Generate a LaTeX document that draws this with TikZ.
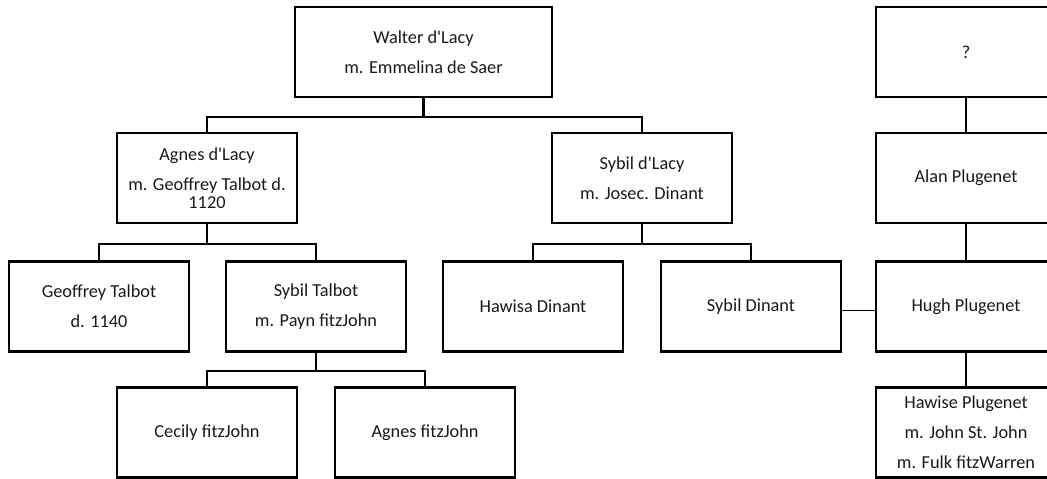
\documentclass[tikz,border=0pt]{standalone}
\usepackage{fontspec}
\setmainfont{Carlito}[Ligatures=TeXOff]
\begin{document}
\begin{tikzpicture}[x=1bp,y=-1bp,
  person/.style={draw, line width=2.2bp, minimum width=180bp, minimum height=90bp,
    align=center, inner sep=0pt, text=black!90,
    font=\fontsize{18.3bp}{30bp}\selectfont},
  link/.style={line width=2.2bp},
  spouse/.style={line width=1bp}]
\useasboundingbox (0,0) rectangle (1047,479);
\clip (0,0) rectangle (1047,479);

% d'Lacy line
\node[person, minimum width=257bp] (walter) at (423.5,52) {Walter d'Lacy\\m. Emmelina de Saer};
\node[person] (agnes) at (207,178) {Agnes d'Lacy\\m. Geoffrey Talbot d.\\[-12bp]1120};
\node[person] (sybil) at (642,178) {Sybil d'Lacy\\m. Josec. Dinant};

\node[person] (geoffrey) at (99,306.5) {Geoffrey Talbot\\d. 1140};
\node[person] (sybilT) at (316,306.5) {Sybil Talbot\\m. Payn fitzJohn};
\node[person] (hawisa) at (533,306.5) {Hawisa Dinant};
\node[person] (sybilD) at (751,306.5) {Sybil Dinant};

\node[person] (cecily) at (207,432.5) {Cecily fitzJohn};
\node[person] (agnesF) at (425,432.5) {Agnes fitzJohn};

% Plugenet line
\node[person] (unknown) at (966,52) {?};
\node[person] (alan) at (966,178) {Alan Plugenet};
\node[person] (hugh) at (966,306.5) {Hugh Plugenet};
\node[person] (hawise) at (966,432.5) {Hawise Plugenet\\m. John St. John\\m. Fulk fitzWarren};

% descent forks
\draw[link] (walter.south) -- ++(0,19) coordinate (walterFork);
\draw[link] (agnes.north) |- (walterFork) -| (sybil.north);

\draw[link] (agnes.south) -- ++(0,20) coordinate (agnesFork);
\draw[link] (geoffrey.north) |- (agnesFork) -| (sybilT.north);

\draw[link] (sybil.south) -- ++(0,20) coordinate (sybilFork);
\draw[link] (hawisa.north) |- (sybilFork) -| (sybilD.north);

\draw[link] (sybilT.south) -- ++(0,18) coordinate (sybilTFork);
\draw[link] (cecily.north) |- (sybilTFork) -| (agnesF.north);

\draw[link] (unknown.south) -- (alan.north);
\draw[link] (alan.south) -- (hugh.north);
\draw[link] (hugh.south) -- (hawise.north);

% marriage
\draw[spouse] ([yshift=-4.5bp]sybilD.east) -- ([yshift=-4.5bp]hugh.west);
\end{tikzpicture}
\end{document}
